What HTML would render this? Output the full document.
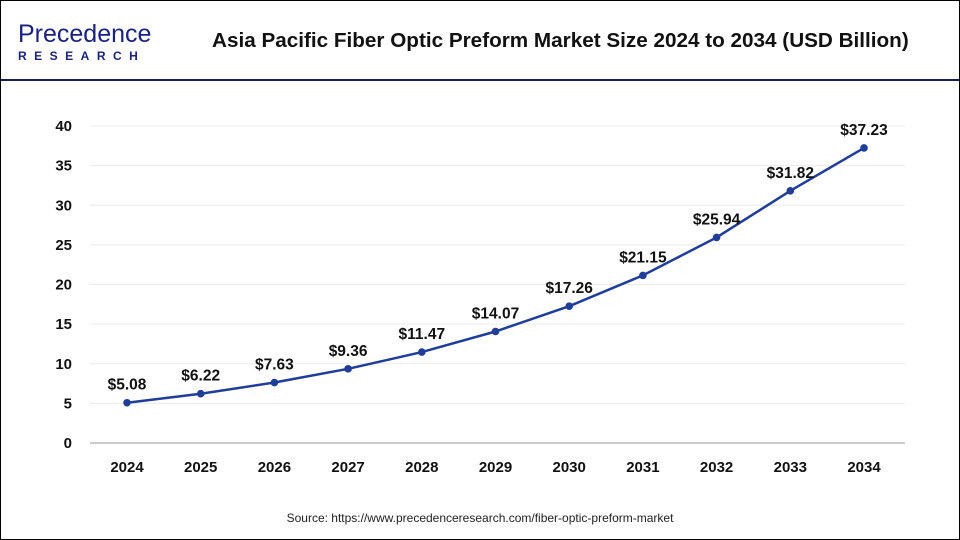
<!DOCTYPE html>
<html><head><meta charset="utf-8"><style>
body{margin:0;width:960px;height:540px;background:#fff;font-family:"Liberation Sans",sans-serif;overflow:hidden}
#frame{position:absolute;left:0;top:0;width:958px;height:538px;border:1px solid #000}
#hdr{position:absolute;left:1px;top:79px;width:958px;height:2px;background:#1a1f4d}
</style></head><body>
<div id="frame"></div>
<div id="hdr"></div>
<div style="position:absolute;left:18px;top:22px;">
<div style="font-size:25px;color:#1a237e;letter-spacing:0px;line-height:25px;">Precedence</div>
<div style="font-size:12px;font-weight:bold;color:#1a237e;letter-spacing:7.5px;margin-top:2px;">RESEARCH</div>
</div>
<div style="position:absolute;left:212px;top:29px;font-size:20.7px;font-weight:bold;color:#111;white-space:nowrap;">Asia Pacific Fiber Optic Preform Market Size 2024 to 2034 (USD Billion)</div>
<svg id="c" width="960" height="540" style="position:absolute;left:0;top:0"></svg>
<div style="position:absolute;left:0;width:960px;top:511px;text-align:center;font-size:12px;color:#222;">Source: https://www.precedenceresearch.com/fiber-optic-preform-market</div>
<script>
const years=["2024","2025","2026","2027","2028","2029","2030","2031","2032","2033","2034"];
const values=[5.08,6.22,7.63,9.36,11.47,14.07,17.26,21.15,25.94,31.82,37.23];
const labels=["$5.08","$6.22","$7.63","$9.36","$11.47","$14.07","$17.26","$21.15","$25.94","$31.82","$37.23"];
const yTicks=[0,5,10,15,20,25,30,35,40];
const svg=document.getElementById('c');const NS='http://www.w3.org/2000/svg';
const x=i=>127+i*73.7;const y=v=>443-v*7.925;
function mk(t,a,txt){const e=document.createElementNS(NS,t);for(const k in a)e.setAttribute(k,a[k]);if(txt!=null)e.textContent=txt;svg.appendChild(e);return e;}
yTicks.forEach(t=>{
 if(t>0){const g=mk('line',{x1:90,x2:905,y1:y(t),y2:y(t),stroke:'#ececec','stroke-width':1});
 
 }
 const l=mk('text',{x:72,y:y(t)+5,'text-anchor':'end','font-size':15,'font-weight':'bold',fill:'#111'},t);
 
 
});
const ax=mk('line',{x1:90,x2:905,y1:443,y2:443,stroke:'#999','stroke-width':1});


years.forEach((yr,i)=>{
 const t=mk('text',{x:x(i),y:472,'text-anchor':'middle','font-size':15,'font-weight':'bold',fill:'#111'},yr);
 
 
});
const ln=mk('polyline',{points:values.map((v,i)=>x(i)+','+y(v)).join(' '),fill:'none',stroke:'#1f3d99','stroke-width':2.5});


values.forEach((v,i)=>{
 const p=mk('circle',{cx:x(i),cy:y(v),r:3.8,fill:'#1f3d99'});
 
 
 const t=mk('text',{x:x(i),y:y(v)-13,'text-anchor':'middle','font-size':15.5,'font-weight':'bold',fill:'#111'},labels[i]);
 
 
});
</script>
</body></html>
